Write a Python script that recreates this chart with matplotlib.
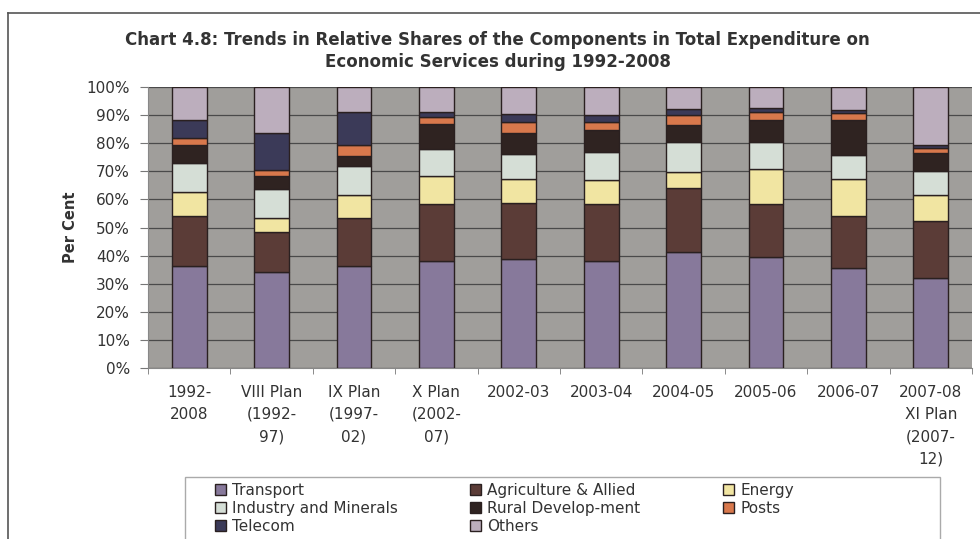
import numpy as np
import matplotlib.pyplot as plt
from matplotlib.lines import Line2D
from matplotlib.patches import Rectangle

plt.rcParams['font.family'] = ['DejaVu Sans']

categories = ["1992-\n2008", "VIII Plan\n(1992-\n97)", "IX Plan\n(1997-\n02)",
              "X Plan\n(2002-\n07)", "2002-03", "2003-04", "2004-05",
              "2005-06", "2006-07", "2007-08\nXI Plan\n(2007-\n12)"]

transport = [36.3, 34.3, 36.3, 38.2, 38.7, 38.2, 41.4, 39.6, 35.7, 31.9]
agriculture = [17.9, 14.2, 17.0, 20.2, 20.1, 20.2, 22.5, 18.8, 18.4, 20.5]
energy = [8.5, 4.8, 8.3, 9.9, 8.5, 8.5, 6.0, 12.3, 13.0, 9.2]
industry = [10.1, 10.3, 10.3, 9.5, 8.9, 10.1, 10.4, 9.6, 8.7, 8.6]
rural = [6.6, 4.7, 3.5, 8.9, 7.5, 7.7, 6.2, 8.0, 12.5, 6.4]
posts = [2.3, 2.2, 4.0, 2.7, 4.0, 3.0, 3.5, 2.7, 2.3, 1.8]
telecom = [6.6, 13.0, 11.8, 1.8, 2.6, 2.3, 2.1, 1.6, 1.2, 1.0]
others = [11.7, 16.5, 8.8, 8.8, 9.7, 10.0, 7.9, 7.4, 8.2, 20.6]

series = [
    ("Transport", transport, "#87799b"),
    ("Agriculture & Allied", agriculture, "#5b3c37"),
    ("Energy", energy, "#f1e5a2"),
    ("Industry and Minerals", industry, "#d5ded6"),
    ("Rural Develop-ment", rural, "#2f2321"),
    ("Posts", posts, "#d8784c"),
    ("Telecom", telecom, "#3b3a58"),
    ("Others", others, "#bcaebd"),
]

fig = plt.figure(figsize=(9.8, 5.39), dpi=100)
ax = fig.add_axes([148/980, 1-368/539, 824/980, 281/539])
ax.set_facecolor("#a09e9b")

x = np.arange(len(categories))
bottom = np.zeros(len(categories))
handles = {}
for name, vals, col in series:
    vals = np.array(vals)
    b = ax.bar(x, vals, 0.42, bottom=bottom, color=col, edgecolor="#2a2020",
               linewidth=1.0, label=name, zorder=3)
    handles[name] = b
    bottom += vals

ax.set_xlim(-0.5, len(categories) - 0.5)
ax.set_ylim(0, 100)
ax.set_yticks(np.arange(0, 101, 10))
ax.set_yticklabels([f"{v}%" for v in range(0, 101, 10)], fontsize=11, color="#333333")
ax.yaxis.grid(True, color="#4a4a4a", linewidth=0.9, zorder=0)
ax.set_xticks(x)
ax.set_xticklabels(categories, fontsize=11, color="#333333", linespacing=1.6)
ax.set_xticks(np.arange(-0.5, len(categories), 1), minor=True)
ax.tick_params(axis="x", which="major", length=0, pad=12)
ax.tick_params(axis="x", which="minor", length=4, color="#777777")
ax.tick_params(axis="y", length=6, color="#777777", pad=7)
for s in ["top", "right"]:
    ax.spines[s].set_visible(False)
ax.spines["left"].set_color("#888888")
ax.spines["bottom"].set_color("#888888")

ax.set_ylabel("Per Cent", fontsize=10.5, fontweight="bold", color="#333333", labelpad=6)

fig.text(0.508, 0.905, "Chart 4.8: Trends in Relative Shares of the Components in Total Expenditure on\n"
         "Economic Services during 1992-2008", ha="center", va="center",
         fontsize=12, fontweight="bold", color="#333333", linespacing=1.25)

# outer chart frame
fig.add_artist(Line2D([8/980, 1.0], [1-13/539, 1-13/539], color="#555555", linewidth=1.2))
fig.add_artist(Line2D([8/980, 8/980], [0, 1-13/539], color="#555555", linewidth=1.2))

# legend frame
fig.add_artist(Rectangle((185/980, -0.01), 755/980, (539-477)/539 + 0.01,
                         transform=fig.transFigure, fill=False,
                         edgecolor="#aaaaaa", linewidth=1.0))

legend_cols = [
    (207, ["Transport", "Industry and Minerals", "Telecom"]),
    (462, ["Agriculture & Allied", "Rural Develop-ment", "Others"]),
    (715, ["Energy", "Posts"]),
]
for xpos, names in legend_cols:
    leg = fig.legend([handles[n] for n in names], names, ncol=1,
                     loc="upper left", bbox_to_anchor=(xpos/980, 1-475/539),
                     frameon=False, fontsize=11, handlelength=0.75, handleheight=0.75,
                     handletextpad=0.4, labelspacing=0.2, borderpad=0)
    for t in leg.get_texts():
        t.set_color("#333333")

fig.savefig("out.png", dpi=100)
